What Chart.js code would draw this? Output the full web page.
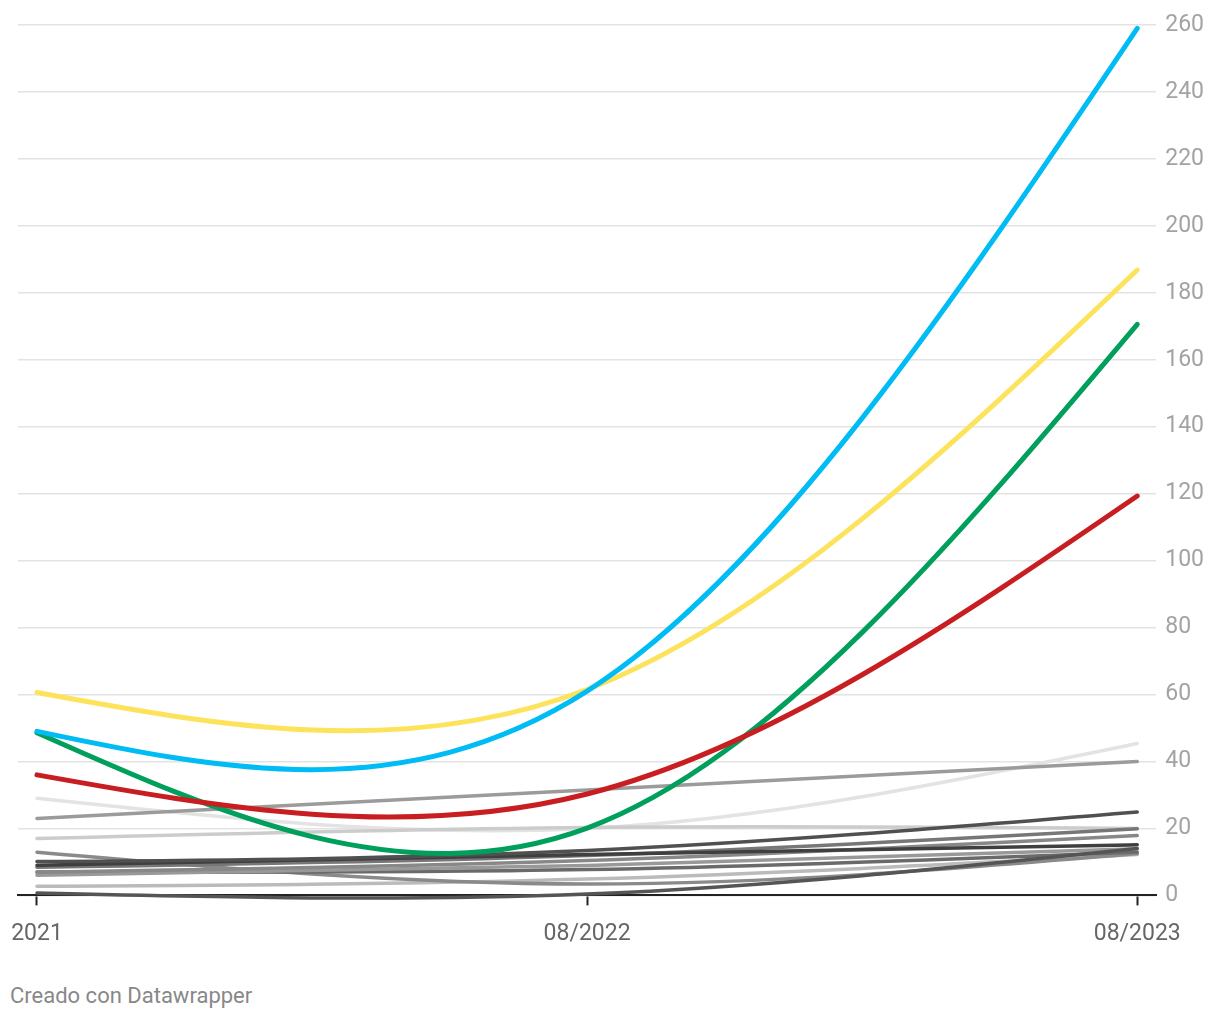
<!DOCTYPE html>
<html>
<head>
<meta charset="utf-8">
<script src="https://cdn.jsdelivr.net/npm/chart.js@4/dist/chart.umd.min.js"></script>
<style>
  body { margin: 0; background: #fff; font-family: Roboto, sans-serif; }
  #wrap { position: relative; width: 1220px; height: 963px; }
  #footer { position: absolute; left: 10px; top: 983px; font-size: 22px; color: #888; }
</style>
</head>
<body>
<div id="wrap"><canvas id="chart" width="1220" height="963"></canvas></div>
<div id="footer">Creado con Datawrapper</div>
<script>
// fechas del eje X
const categories = ['2021', '08/2022', '08/2023'];
const xPos = [0, 1, 2];
const yTicks = [0, 20, 40, 60, 80, 100, 120, 140, 160, 180, 200, 220, 240, 260];

// series destacadas
const blueSeries = [49, 61, 259];
const yellowSeries = [60.6, 61.5, 186.8];
const greenSeries = [48.6, 20.1, 170.6];
const redSeries = [36, 30.3, 119.3];

// series en gris
const greyVeryLight = [29, 20, 45.4];
const greyMid = [23, 31.5, 40];
const greyLight = [17, 20.3, 20];
const greyDarkA = [10.1, 13.4, 24.9];
const greyB = [8.4, 11.9, 19.9];
const greyC = [6.9, 10.4, 17.9];
const greyD = [9, 12.2, 15.1];
const greyE = [6, 8.9, 13.9];
const greyDesc = [12.9, 3.4, 12.5];
const greyF = [2.7, 4.9, 12.2];
const greyBottom = [0.7, 0.4, 14];
const greyG = [7, 7.7, 13];

function pts(values) {
    return values.map((v, i) => ({ x: xPos[i], y: v }));
}

function serie(values, color, width) {
    return {
        data: pts(values),
        borderColor: color,
        borderWidth: width,
        borderCapStyle: 'round',
        borderJoinStyle: 'round',
        pointRadius: 0,
        pointHoverRadius: 0,
        tension: 0.4,
        clip: false
    };
}

// spline natural (como la curva de Datawrapper), usando los puntos ya escalados
const naturalSpline = {
    id: 'naturalSpline',
    beforeDatasetsDraw(chart) {
        chart.data.datasets.forEach((ds, di) => {
            const meta = chart.getDatasetMeta(di);
            const line = meta.dataset;
            const p = meta.data;
            const n = p.length;
            if (n < 3) return;
            line.updateControlPoints(chart.chartArea, 'x');
            const xs = p.map(e => e.x), ys = p.map(e => e.y);
            const h = [];
            for (let i = 0; i < n - 1; i++) h.push(xs[i + 1] - xs[i]);
            // sistema tridiagonal para las segundas derivadas
            const M = new Array(n).fill(0);
            const a = [], b = [], c = [], d = [];
            for (let i = 1; i < n - 1; i++) {
                a.push(h[i - 1]);
                b.push(2 * (h[i - 1] + h[i]));
                c.push(h[i]);
                d.push(6 * ((ys[i + 1] - ys[i]) / h[i] - (ys[i] - ys[i - 1]) / h[i - 1]));
            }
            const m = b.length;
            for (let i = 1; i < m; i++) {
                const w = a[i] / b[i - 1];
                b[i] -= w * c[i - 1];
                d[i] -= w * d[i - 1];
            }
            for (let i = m - 1; i >= 0; i--) {
                M[i + 1] = (d[i] - (i < m - 1 ? c[i] * M[i + 2] : 0)) / b[i];
            }
            const slope = [];
            for (let i = 0; i < n - 1; i++) {
                slope.push((ys[i + 1] - ys[i]) / h[i] - h[i] * (2 * M[i] + M[i + 1]) / 6);
            }
            slope.push((ys[n - 1] - ys[n - 2]) / h[n - 2] + h[n - 2] * (M[n - 2] + 2 * M[n - 1]) / 6);
            for (let i = 0; i < n; i++) {
                const hp = i > 0 ? h[i - 1] : 0;
                const hn = i < n - 1 ? h[i] : 0;
                p[i].cp1x = xs[i] - hp / 3;
                p[i].cp1y = ys[i] - slope[i] * hp / 3;
                p[i].cp2x = xs[i] + hn / 3;
                p[i].cp2y = ys[i] + slope[i] * hn / 3;
            }
            line._path = undefined;
        });
    }
};

const ctx = document.getElementById('chart').getContext('2d');
new Chart(ctx, {
    type: 'line',
    data: {
        datasets: [
            serie(blueSeries, '#00bcf4', 5),
            serie(yellowSeries, '#fde35c', 5),
            serie(redSeries, '#c81e21', 5),
            serie(greenSeries, '#009f5b', 5),
            serie(greyBottom, '#555555', 3.5),
            serie(greyDarkA, '#505050', 3.5),
            serie(greyD, '#3f3f3f', 3.5),
            serie(greyB, '#777777', 3.5),
            serie(greyC, '#888888', 3.5),
            serie(greyE, '#999999', 3.5),
            serie(greyG, '#6a6a6a', 3.5),
            serie(greyDesc, '#8a8a8a', 3.5),
            serie(greyF, '#bbbbbb', 3.5),
            serie(greyMid, '#9b9b9b', 3.5),
            serie(greyLight, '#cccccc', 3.5),
            serie(greyVeryLight, '#e3e3e3', 3.5)
        ]
    },
    options: {
        responsive: false,
        animation: false,
        events: [],
        layout: { padding: { top: 25, left: 18, right: 7, bottom: 0 } },
        scales: {
            x: {
                type: 'linear',
                min: -0.0345,
                max: 2.0345,
                afterBuildTicks: axis => { axis.ticks = xPos.map(v => ({ value: v })); },
                afterFit: axis => { axis.paddingLeft = 0; axis.paddingRight = 0; },
                ticks: {
                    callback: v => categories[v],
                    color: '#666',
                    font: { family: 'Roboto', size: 23 },
                    padding: 15,
                    maxRotation: 0,
                    autoSkip: false
                },
                grid: {
                    drawOnChartArea: false,
                    drawTicks: true,
                    tickLength: 10,
                    tickWidth: 2,
                    tickColor: '#222'
                },
                border: { display: true, color: '#222', width: 2 }
            },
            y: {
                position: 'right',
                min: 0,
                max: 260,
                afterBuildTicks: axis => { axis.ticks = yTicks.map(v => ({ value: v })); },
                ticks: {
                    color: '#a3a3a3',
                    font: { family: 'Roboto', size: 23 },
                    padding: 9,
                    autoSkip: false
                },
                grid: { color: '#e3e3e3', lineWidth: 1.5, drawTicks: false },
                border: { display: false }
            }
        },
        plugins: {
            legend: { display: false },
            tooltip: { enabled: false }
        }
    },
    plugins: [naturalSpline]
});
</script>
</body>
</html>
